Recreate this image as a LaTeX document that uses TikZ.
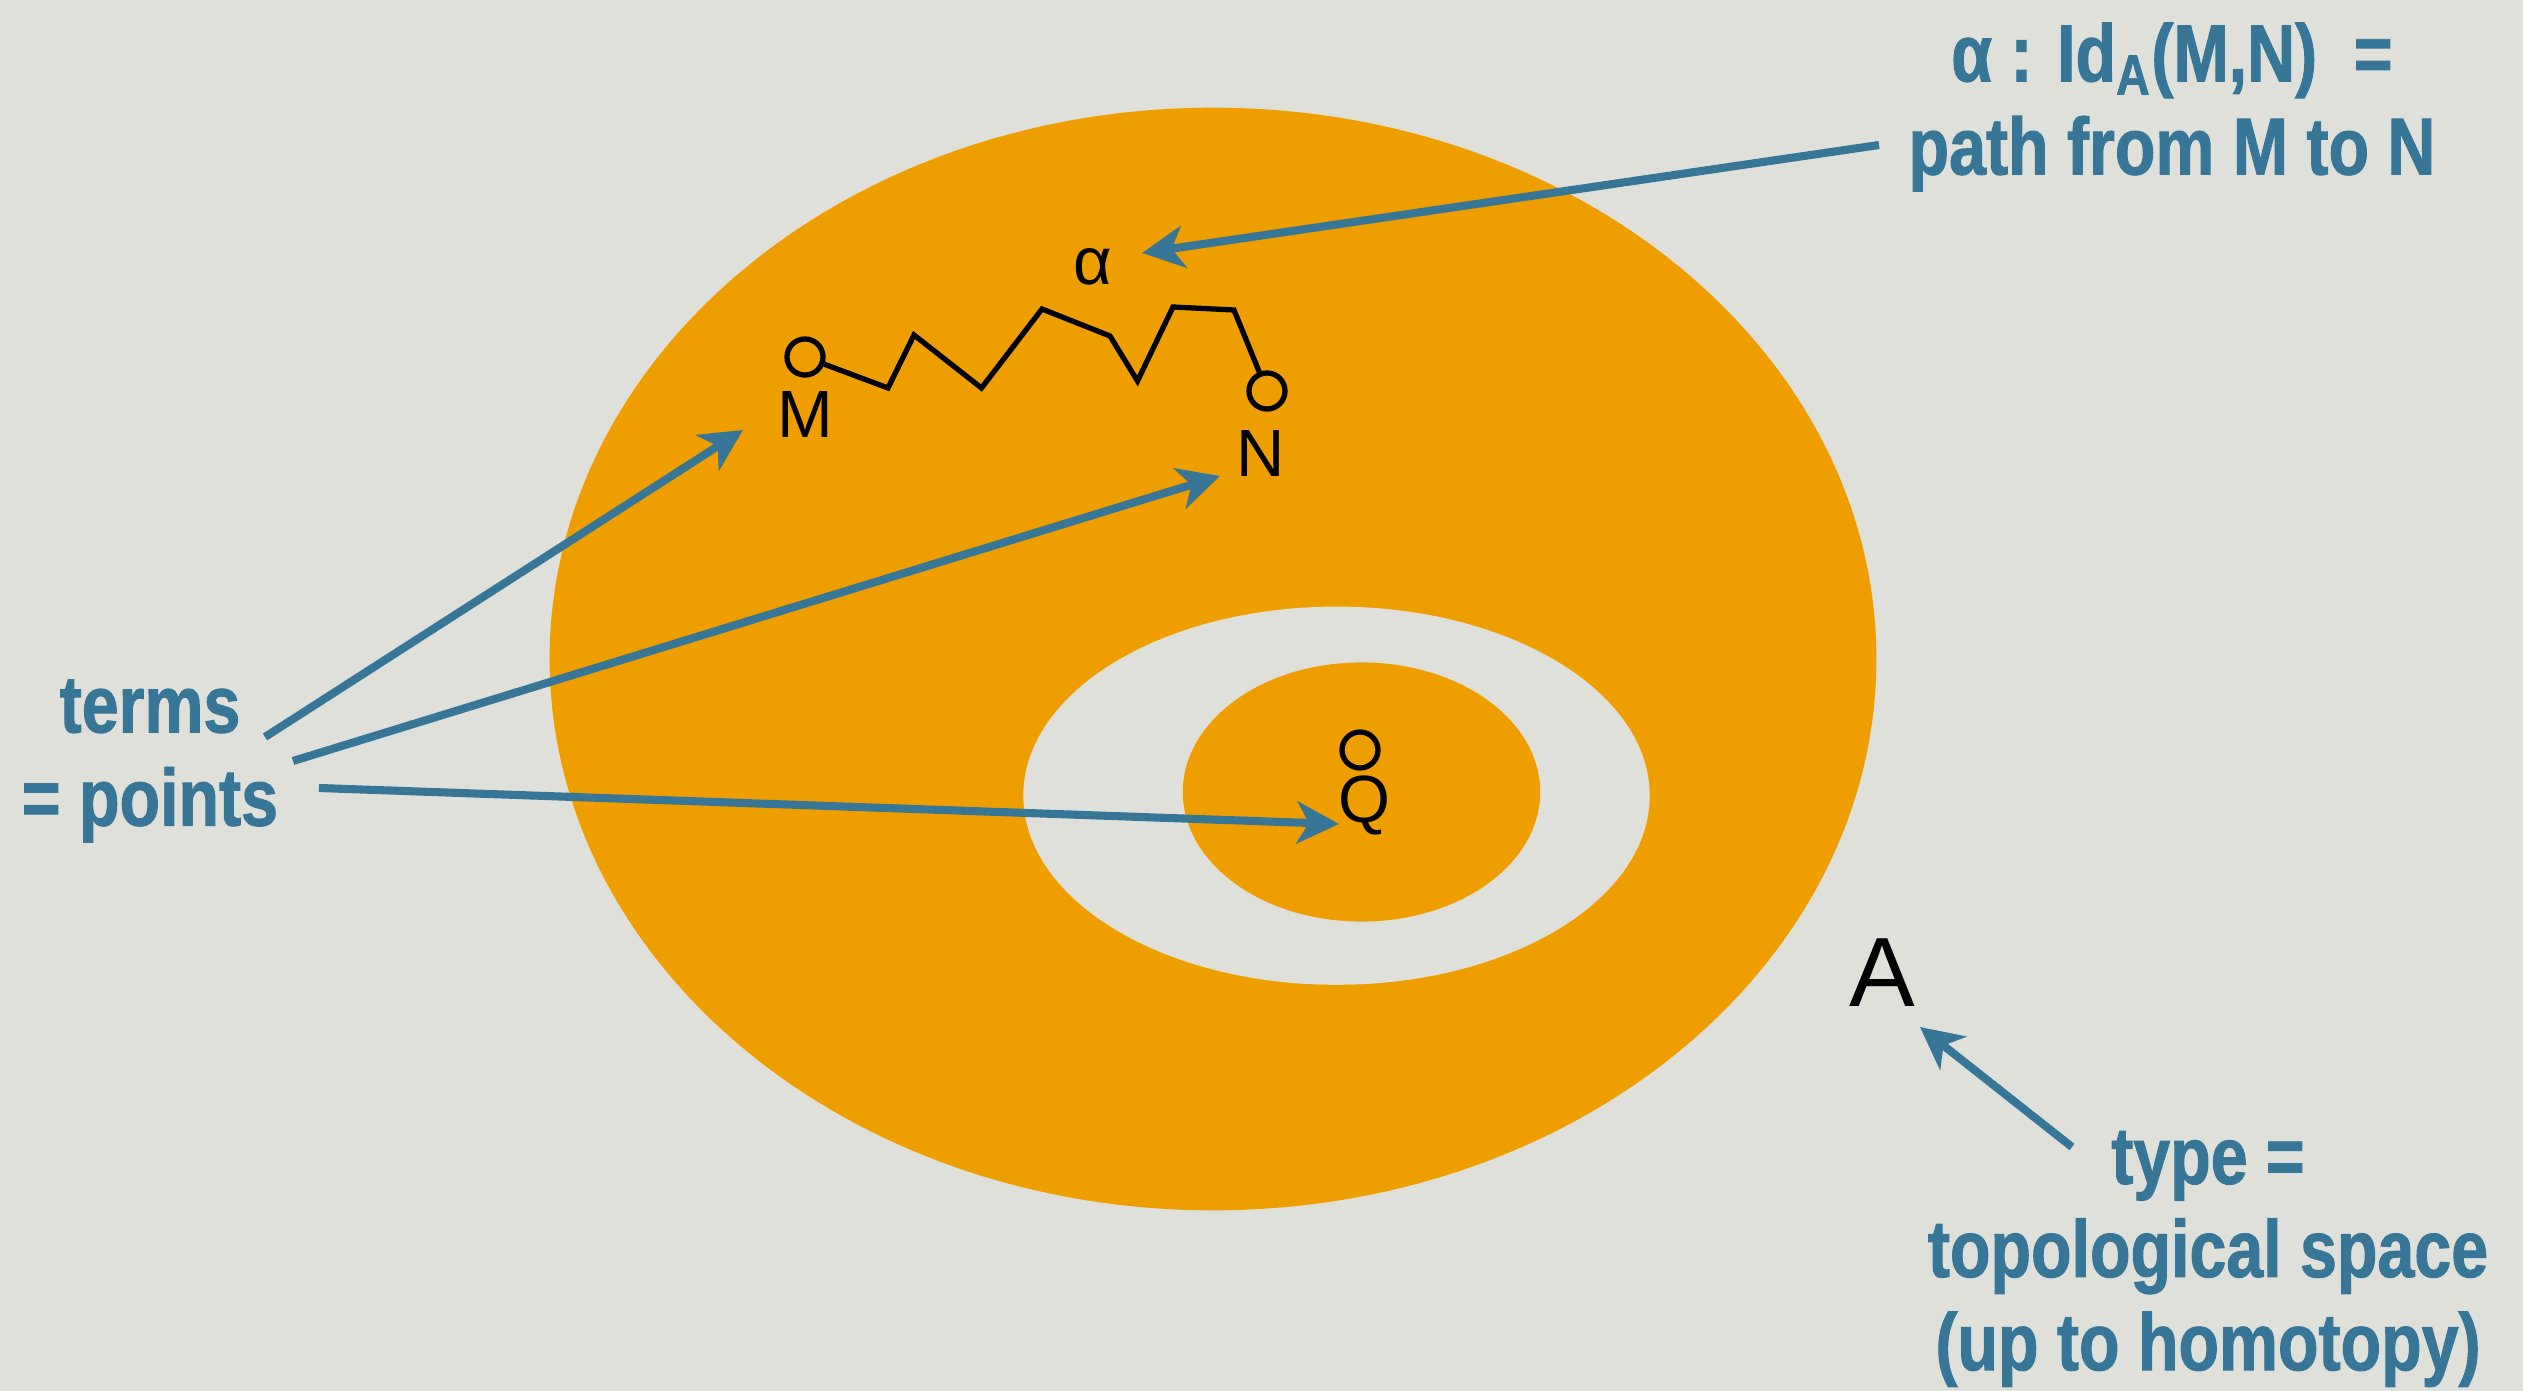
\documentclass[tikz,border=0pt]{standalone}
\usepackage{fontspec}
\setmainfont{Liberation Sans}
\newfontfamily\bluefont[FakeStretch=0.82,FakeBold=1.2]{Liberation Sans Bold}
\usetikzlibrary{arrows.meta}
\definecolor{bg}{RGB}{223,224,218}
\definecolor{orng}{RGB}{239,158,0}
\definecolor{tblue}{RGB}{56,118,152}
\tikzset{
  bluetext/.style={text=tblue, font=\bluefont\fontsize{23}{26.5}\selectfont, align=center, inner sep=0pt},
  blacklabel/.style={font=\fontsize{19}{22}\selectfont, inner sep=0pt},
  endpt/.style={circle, draw, line width=1.5pt, minimum size=0.36cm, inner sep=0pt},
  pointer/.style={draw=tblue, line width=2.3pt, -{Stealth[length=12pt,width=12pt,inset=3.5pt]}},
  zig/.style={line width=1.5pt, line join=miter}
}
\begin{document}
\begin{tikzpicture}[x=0.01cm,y=-0.01cm]
\fill[bg] (0,0) rectangle (2523,1391);
\useasboundingbox (0,0) rectangle (2523,1391);
% space A
\fill[orng] (1213,659) ellipse [x radius=6.63cm, y radius=5.51cm];
\fill[bg] (1336.5,795.7) ellipse [x radius=3.13cm, y radius=1.89cm];
\fill[orng] (1361.5,792) ellipse [x radius=1.786cm, y radius=1.295cm];
% points
\node[endpt] (Mc) at (805,357) {};
\node[endpt] (Nc) at (1267,391) {};
\node[endpt] (Qc) at (1360,750) {};
\node[blacklabel] (Ml) at (805,415) {M};
\node[blacklabel] (Nl) at (1261,454) {N};
\node[blacklabel] (Ql) at (1364,805) {Q};
\node[blacklabel] (al) at (1093,267) {α};
\node[font=\fontsize{28}{32}\selectfont, inner sep=0pt] (Al) at (1882,973) {A};
% path alpha
\draw[zig] (Mc) -- (888,388) -- (914,335) -- (981.5,388) -- (1042,309) -- (1110,336)
  -- (1137.5,381) -- (1173,307) -- (1234,310) -- (Nc);
% texts
\node[bluetext] (idtext) at (2172,107) {α : Id\textsubscript{A}(M,N)\ \ =\\path from M to N};
\node[bluetext] (terms) at (150,761) {terms\\= points};
\node[bluetext] (typetext) at (2208,1259) {type =\\topological space\\(up to homotopy)};
% arrow ends
\coordinate (idS) at (1879,145); \coordinate (idE) at (1142,253);
\coordinate (tM) at (265,737); \coordinate (Mend) at (743,430);
\coordinate (tN) at (293,761); \coordinate (Nend) at (1220,476);
\coordinate (tQ) at (319,788); \coordinate (Qend) at (1339,824);
\coordinate (tA) at (2072,1147); \coordinate (Aend) at (1920,1027);
\draw[pointer] (idS) -- (idE);
\draw[pointer] (tM) -- (Mend);
\draw[pointer] (tN) -- (Nend);
\draw[pointer] (tQ) -- (Qend);
\draw[pointer] (tA) -- (Aend);
\end{tikzpicture}
\end{document}
